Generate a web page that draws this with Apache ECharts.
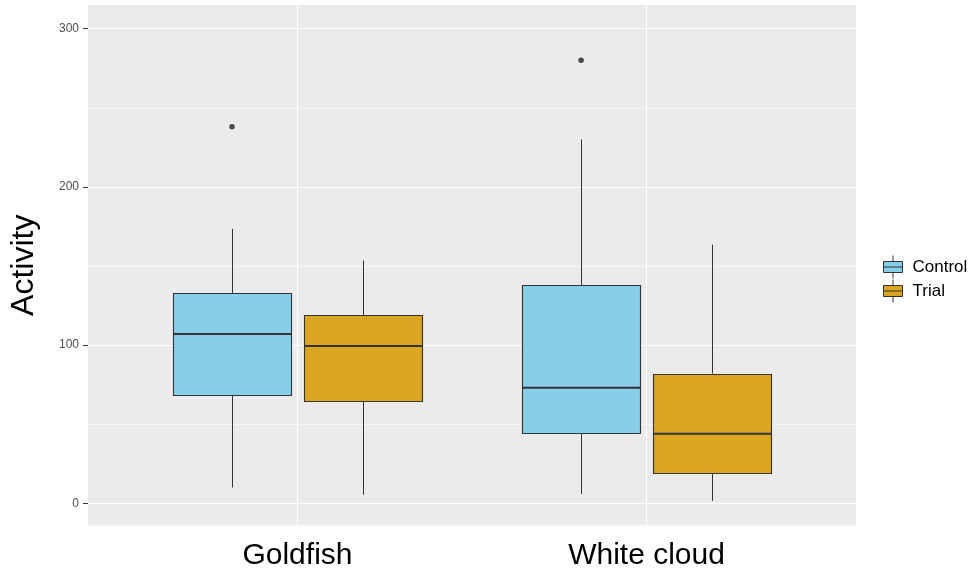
<!DOCTYPE html>
<html>
<head>
<meta charset="utf-8">
<script src="https://cdn.jsdelivr.net/npm/echarts@6/dist/echarts.min.js"></script>
<style>
html,body{margin:0;padding:0;background:#fff;}
#chart{width:974px;height:572px;}
</style>
</head>
<body>
<div id="chart"></div>
<script>
// ---- data ----
const categories = ['Goldfish', 'White cloud'];
const groups = ['Control', 'Trial'];
// [min whisker, Q1, median, Q3, max whisker]
const controlStats = [[10, 68.5, 107, 133, 173.5], [6, 44.5, 73, 138, 230]];
const trialStats = [[5.5, 64.5, 99.5, 119, 153.5], [1.5, 19.5, 44, 82, 163.5]];
// outliers: [category, value]
const controlOutliers = [['Goldfish', 238], ['White cloud', 280]];
const trialOutliers = [];
const yTicks = [0, 100, 200, 300];
const yMinor = [50, 150, 250];

// ---- style ----
const colors = {Control: '#87CEEB', Trial: '#DAA520'};
const dodge = {Control: -0.1875, Trial: 0.1875};
const halfBox = 0.16875;
const FONT = '"Liberation Sans", Arial, sans-serif';

function boxRender(groupName) {
  return function (params, api) {
    const x = api.value(0) + 1 + dodge[groupName];
    const lo = api.coord([x, api.value(1)]);
    const q1 = api.coord([x, api.value(2)]);
    const med = api.coord([x, api.value(3)]);
    const q3 = api.coord([x, api.value(4)]);
    const hi = api.coord([x, api.value(5)]);
    const left = Math.round(api.coord([x - halfBox, 0])[0]) + 0.5;
    const right = Math.round(api.coord([x + halfBox, 0])[0]) + 0.5;
    const cx = Math.round(lo[0]) + 0.5;
    const stroke = '#333333';
    return {
      type: 'group',
      children: [
        {type: 'line', shape: {x1: cx, y1: hi[1], x2: cx, y2: q3[1]}, style: {stroke: stroke, lineWidth: 1}},
        {type: 'line', shape: {x1: cx, y1: q1[1], x2: cx, y2: lo[1]}, style: {stroke: stroke, lineWidth: 1}},
        {type: 'rect', shape: {x: left, y: Math.round(q3[1]) + 0.5, width: right - left, height: Math.round(q1[1]) - Math.round(q3[1])},
          style: {fill: colors[groupName], stroke: stroke, lineWidth: 1.1}},
        {type: 'line', shape: {x1: left, y1: med[1], x2: right, y2: med[1]}, style: {stroke: stroke, lineWidth: 2}}
      ]
    };
  };
}

const legendIcon = 'path://M0,6H19V17H0Z M0,11.5H19 M9.5,0V6 M9.5,17V23';

const gridLines = []
  .concat(categories.map((c, i) => ({xAxis: i + 1, lineStyle: {width: 1.1}})))
  .concat(yMinor.map(v => ({yAxis: v, lineStyle: {width: 0.55}})));

const option = {
  animation: false,
  backgroundColor: '#ffffff',
  textStyle: {fontFamily: FONT},
  grid: {left: 86, top: 5, width: 770, height: 520.5, show: true, backgroundColor: '#EBEBEB', borderWidth: 0},
  xAxis: {
    type: 'value', min: 0.4, max: 2.6,
    axisLine: {show: false},
    splitLine: {show: false},
    axisTick: {show: true, customValues: [1, 2], length: 5, lineStyle: {color: '#333333'}},
    axisLabel: {customValues: [1, 2], formatter: v => categories[Math.round(v) - 1],
      fontSize: 30, color: '#000000', margin: 15, fontFamily: FONT}
  },
  yAxis: {
    type: 'value', min: -14, max: 315, splitNumber: 3,
    name: 'Activity', nameLocation: 'middle', nameGap: 48,
    nameTextStyle: {fontSize: 32, color: '#000000', fontFamily: FONT},
    axisLine: {show: false},
    axisTick: {show: true, customValues: yTicks, length: 5, lineStyle: {color: '#333333'}},
    axisLabel: {customValues: yTicks, fontSize: 12, color: '#4d4d4d', margin: 9, fontFamily: FONT},
    splitLine: {show: true, lineStyle: {color: '#ffffff', width: 1.1}}
  },
  legend: {
    data: groups,
    orient: 'vertical', left: 883, top: 255, padding: 0,
    itemWidth: 19, itemHeight: 23, itemGap: 0,
    icon: legendIcon,
    itemStyle: {borderColor: '#333333', borderWidth: 1},
    textStyle: {fontSize: 17, color: '#000000', fontFamily: FONT, padding: [0, 0, 0, 5]},
    selectedMode: false
  },
  series: [
    {
      name: 'Control', type: 'custom', renderItem: boxRender('Control'),
      itemStyle: {color: colors.Control},
      encode: {x: 0, y: [1, 2, 3, 4, 5]},
      data: controlStats.map((s, i) => [i].concat(s)),
      markLine: {silent: true, symbol: 'none', label: {show: false}, z: 1,
        lineStyle: {color: '#ffffff', type: 'solid'}, data: gridLines},
      z: 3
    },
    {
      name: 'Trial', type: 'custom', renderItem: boxRender('Trial'),
      itemStyle: {color: colors.Trial},
      encode: {x: 0, y: [1, 2, 3, 4, 5]},
      data: trialStats.map((s, i) => [i].concat(s)),
      z: 3
    },
    {
      name: 'Control outliers', type: 'scatter', symbol: 'circle', symbolSize: 5.5,
      itemStyle: {color: '#222222'},
      data: controlOutliers.map(([c, v]) => [categories.indexOf(c) + 1 + dodge.Control, v]),
      z: 4
    },
    {
      name: 'Trial outliers', type: 'scatter', symbol: 'circle', symbolSize: 5.5,
      itemStyle: {color: '#222222'},
      data: trialOutliers.map(([c, v]) => [categories.indexOf(c) + 1 + dodge.Trial, v]),
      z: 4
    }
  ]
};

const chart = echarts.init(document.getElementById('chart'), null, {renderer: 'canvas'});
chart.setOption(option);
</script>
</body>
</html>
